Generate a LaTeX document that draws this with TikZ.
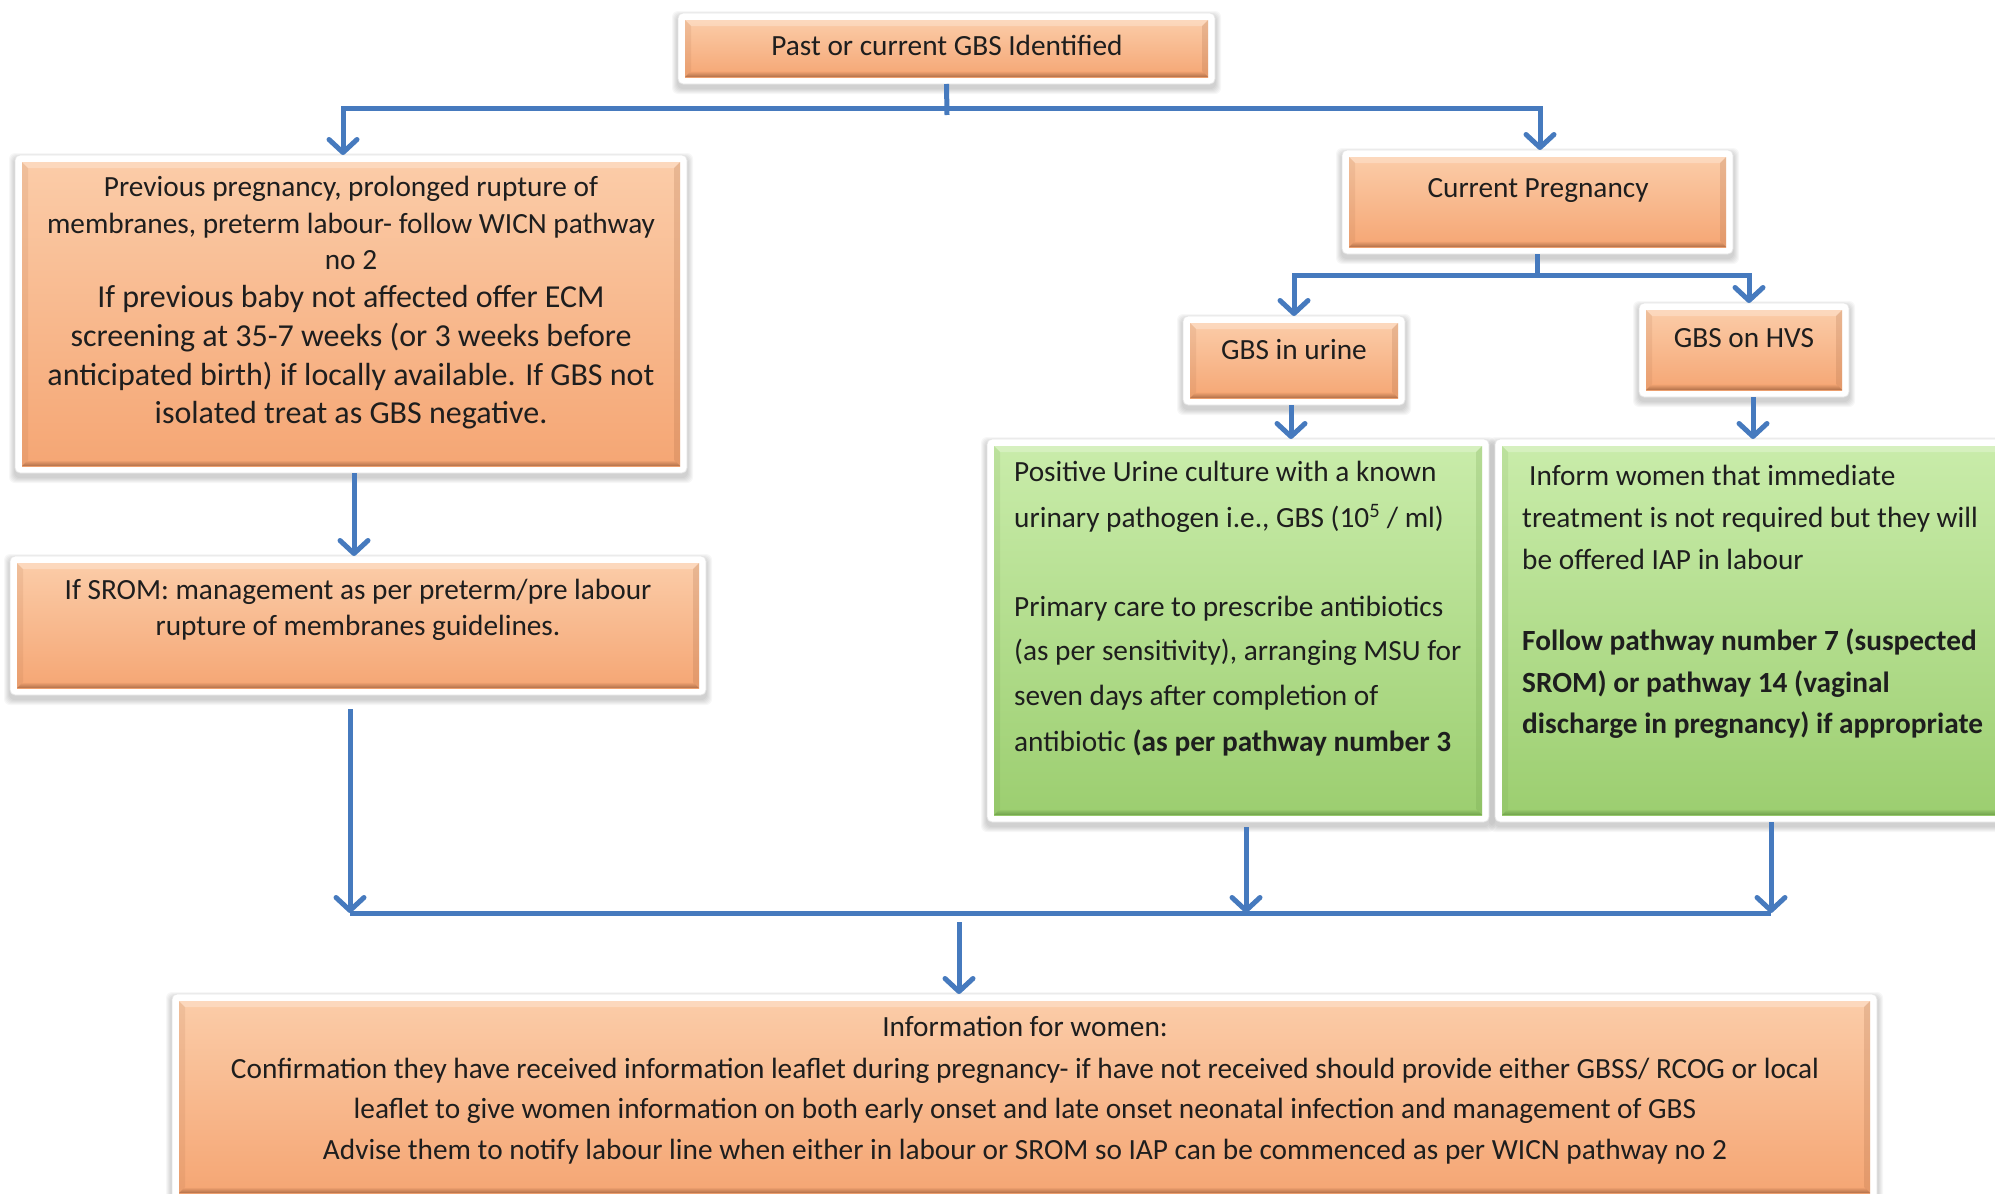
\documentclass[tikz,border=0pt]{standalone}
\usepackage{fontspec}
\setmainfont{Carlito}
\usetikzlibrary{arrows.meta,fit,calc}
\definecolor{ln}{RGB}{70,122,190}
\definecolor{otop}{RGB}{251,204,168}
\definecolor{obot}{RGB}{245,166,116}
\definecolor{odark}{RGB}{160,98,62}
\definecolor{gtop}{RGB}{201,236,170}
\definecolor{gbot}{RGB}{156,206,112}
\definecolor{gdark}{RGB}{100,150,65}
\definecolor{txc}{RGB}{30,30,30}
\newcommand\fsA{\fontsize{29.3}{35}\selectfont}
\newcommand\fsB{\fontsize{32}{39}\selectfont}
\newcommand\gbox[6]{%
  \foreach \k in {1,...,6}{\fill[black,opacity=0.03,rounded corners=6] ({#2-\k},{#3-\k+4}) rectangle ({#4+\k},{#5+\k+4});}
  \node[frame, fit={(#2,#3) (#4,#5)}] (#1) {};
  \shade[top color=#6top,bottom color=#6bot] ({#2+7},{#3+7}) rectangle ({#4-7},{#5-7});
  \shade[top color=#6bot,bottom color=#6dark,opacity=0.8] ({#2+7},{#5-7}) -- ({#4-7},{#5-7}) -- ({#4-13},{#5-13}) -- ({#2+13},{#5-13}) -- cycle;
  \fill[white,opacity=0.25] ({#2+7},{#3+7}) -- ({#4-7},{#3+7}) -- ({#4-13},{#3+13}) -- ({#2+13},{#3+13}) -- cycle;
  \fill[#6dark,opacity=0.12] ({#2+7},{#3+7}) -- ({#2+13},{#3+13}) -- ({#2+13},{#5-13}) -- ({#2+7},{#5-7}) -- cycle;
  \fill[#6dark,opacity=0.2] ({#4-7},{#3+7}) -- ({#4-13},{#3+13}) -- ({#4-13},{#5-13}) -- ({#4-7},{#5-7}) -- cycle;
}
\begin{document}
\begin{tikzpicture}[x=1pt,y=-1pt,
  frame/.style={fill=white,draw=black!10,line width=0.8pt,rounded corners=5pt,inner sep=0pt,outer sep=0pt},
  txt/.style={font=\fsA,text=txc,inner sep=0pt,anchor=base},
  txtB/.style={font=\fsB,text=txc,inner sep=0pt,anchor=base},
  txtL/.style={font=\fsA,text=txc,inner sep=0pt,anchor=base west},
  conn/.style={draw=ln,line width=5pt},
  arrow/.style={draw=ln,line width=5pt,-{Straight Barb[length=13pt,width=28pt,round]}}]
\useasboundingbox (0,0) rectangle (1995,1194);
\fill[white] (0,0) rectangle (1995,1194);

% boxes
\gbox{top}{678}{13}{1215}{84}{o}
\gbox{left}{15}{155}{687}{473}{o}
\gbox{srom}{10}{556}{706}{695}{o}
\gbox{cp}{1342}{150}{1733}{254}{o}
\gbox{urine}{1183}{316}{1405}{405}{o}
\gbox{hvs}{1639}{303}{1849}{397}{o}
\gbox{gone}{987}{439}{1489}{822}{g}
\gbox{gtwo}{1495}{439}{2012}{822}{g}
\gbox{info}{172}{994}{1877}{1200}{o}

% texts
\node[txt] (t0) at (947,55) {Past or current GBS Identified};
\node[txt] (l1) at (351,196) {Previous pregnancy, prolonged rupture of};
\node[txt] (l2) at (351,233) {membranes, preterm labour- follow WICN pathway};
\node[txt] (l3) at (351,269) {no 2};
\node[txtB] (l4) at (351,307) {If previous baby not affected offer ECM};
\node[txtB] (l5) at (351,346) {screening at 35-7 weeks (or 3 weeks before};
\node[txtB] (l6) at (351,385) {anticipated birth) if locally available. If GBS not};
\node[txtB] (l7) at (351,423) {isolated treat as GBS negative.};
\node[txt] (s1) at (358,599) {If SROM: management as per preterm/pre labour};
\node[txt] (s2) at (358,635) {rupture of membranes guidelines.};
\node[txt] (c0) at (1538,197) {Current Pregnancy};
\node[txt] (u0) at (1294,359) {GBS in urine};
\node[txt] (h0) at (1744,347) {GBS on HVS};
\node[txtL] (g11) at (1014,481) {Positive Urine culture with a known};
\node[txtL] (g12) at (1014,527) {urinary pathogen i.e., GBS (10\textsuperscript{5} / ml)};
\node[txtL] (g13) at (1014,616) {Primary care to prescribe antibiotics};
\node[txtL] (g14) at (1014,660) {(as per sensitivity), arranging MSU for};
\node[txtL] (g15) at (1014,705) {seven days after completion of};
\node[txtL] (g16) at (1014,751) {antibiotic \textbf{(as per pathway number 3}};
\node[txtL] (g21) at (1529,485) {Inform women that immediate};
\node[txtL] (g22) at (1522,527) {treatment is not required but they will};
\node[txtL] (g23) at (1522,569) {be offered IAP in labour};
\node[txtL,font=\fsA\bfseries] (g24) at (1522,650) {Follow pathway number 7 (suspected};
\node[txtL,font=\fsA\bfseries] (g25) at (1522,692) {SROM) or pathway 14 (vaginal};
\node[txtL,font=\fsA\bfseries] (g26) at (1522,733) {discharge in pregnancy) if appropriate};
\node[txt] (i1) at (1025,1036) {Information for women:};
\node[txt] (i2) at (1025,1078) {Confirmation they have received information leaflet during pregnancy- if have not received should provide either GBSS/ RCOG or local};
\node[txt] (i3) at (1025,1118) {leaflet to give women information on both early onset and late onset neonatal infection and management of GBS};
\node[txt] (i4) at (1025,1159) {Advise them to notify labour line when either in labour or SROM so IAP can be commenced as per WICN pathway no 2};

% connectors
\coordinate (t1) at (947,115);
\coordinate (jl) at (343,108);
\coordinate (jr) at (1540,108);
\draw[conn] (top.south) -- (t1);
\draw[arrow] (jr) -- (jl) -- (jl |- left.north);
\draw[arrow] (jl) -- (jr) -- (jr |- cp.north);
\draw[arrow] ([xshift=3pt]left.south) -- ([xshift=3pt]left.south |- srom.north);

\coordinate (c1) at (1540,275);
\coordinate (cl) at (1294,275);
\coordinate (cr) at (1749,275);
\draw[conn] (cp.south) -- (cp.south |- c1);
\draw[arrow] (cr) -- (cl) -- (cl |- urine.north);
\draw[arrow] (cl) -- (cr) -- (cr |- hvs.north);
\draw[arrow] ([xshift=-3pt]urine.south) -- ([xshift=-3pt]urine.south |- gone.north);
\draw[arrow] ([xshift=9pt]hvs.south) -- ([xshift=9pt]hvs.south |- gtwo.north);

\coordinate (b1) at (350,913);
\coordinate (b2) at (1246,913);
\coordinate (b3) at (1771,913);
\coordinate (b4) at (959,922);
\draw[conn] (b1) -- (b3);
\draw[arrow,shorten <=14pt] (b1 |- srom.south) -- (b1);
\draw[arrow,shorten <=5pt] (b2 |- gone.south) -- (b2);
\draw[arrow] (b3 |- gtwo.south) -- (b3);
\draw[arrow] (b4) -- (b4 |- info.north);
\end{tikzpicture}
\end{document}
